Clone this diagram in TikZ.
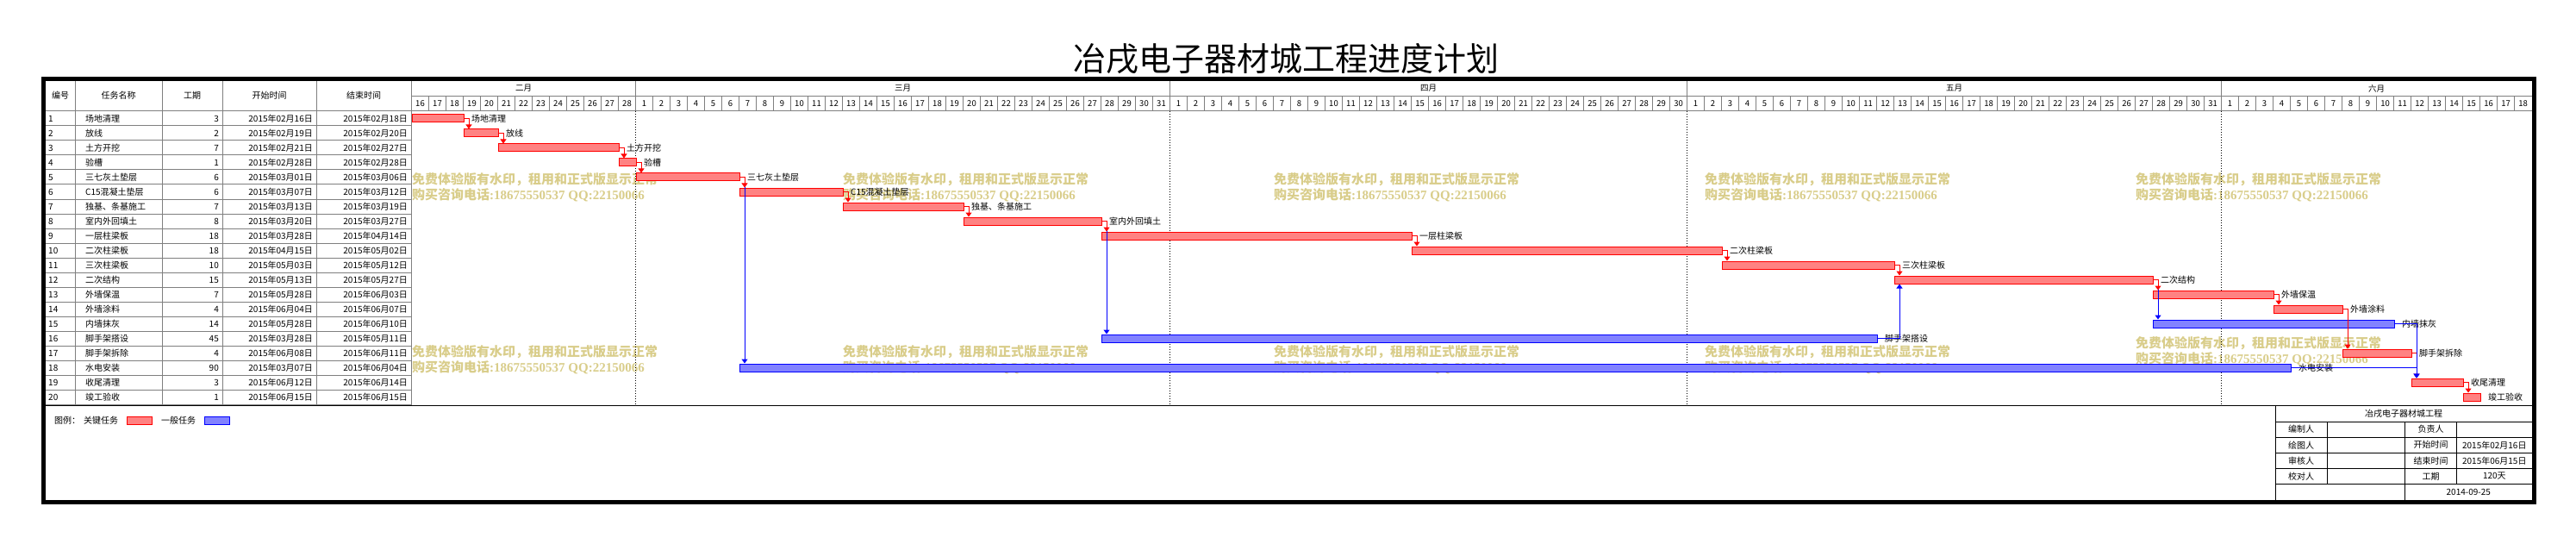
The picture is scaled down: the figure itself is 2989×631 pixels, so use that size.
\documentclass[tikz,border=0pt]{standalone}
\usepackage{fontspec}
\setmainfont{Noto Sans CJK SC}
\newfontfamily\wmlatin{Liberation Serif}
\usetikzlibrary{arrows.meta}

\definecolor{gridgray}{RGB}{128,128,128}
\definecolor{wmkhaki}{RGB}{217,205,138}
\definecolor{critred}{RGB}{255,0,0}
\definecolor{critfill}{RGB}{255,130,130}
\definecolor{normblue}{RGB}{0,0,255}
\definecolor{normfill}{RGB}{130,130,255}

\begin{document}
\begin{tikzpicture}[x=1pt,y=-1pt]

	\tikzstyle{grid}=[draw=gridgray,line width=1pt]
	\tikzstyle{cell}=[inner sep=0pt,font=\fontsize{10}{12}\selectfont]
	\tikzstyle{daynum}=[inner sep=0pt,font=\fontsize{9.5}{11}\selectfont]
	\tikzstyle{wmark}=[inner sep=0pt,anchor=west,text=wmkhaki,
		font=\fontsize{15}{17}\selectfont\bfseries]
	\tikzstyle{crit}=[draw=critred,fill=critfill,line width=1pt,
		inner sep=0pt,minimum height=9pt]
	\tikzstyle{norm}=[draw=normblue,fill=normfill,line width=1pt,
		inner sep=0pt,minimum height=9pt]
	\tikzstyle{critlink}=[draw=critred,line width=1pt,
		-{Triangle[length=5pt,width=7pt]}]
	\tikzstyle{normlink}=[draw=normblue,line width=1pt,
		-{Triangle[length=5pt,width=7pt]}]
	\tikzstyle{blockline}=[draw=black,line width=1pt]

	\useasboundingbox[fill=white] (0,0) rectangle (2989,631);

	% title
	\node[inner sep=0pt,font=\fontsize{38}{40}\selectfont] (title)
		at (1492,68) {冶戌电子器材城工程进度计划};

	% watermarks
	\foreach \wx/\wy [count=\k] in {478/208,978/208,1478/208,1978/208,2478/208,
			478/408,978/408,1478/408,1978/408,2478/398} {
		\node[wmark] (wma\k) at (\wx,\wy) {免费体验版有水印，租用和正式版显示正常};
		\node[wmark] (wmb\k) at (\wx,\wy+18)
			{购买咨询电话{\wmlatin\bfseries :18675550537 QQ:22150066}};
	}

	% table header
	\node[cell] (hno)  at (70,111)    {编号};
	\node[cell] (hnm)  at (137.5,111) {任务名称};
	\node[cell] (hdu)  at (223,111)   {工期};
	\node[cell] (hsd)  at (312.5,111) {开始时间};
	\node[cell] (hed)  at (422,111)   {结束时间};

	\foreach \cx in {87,188,258,367,477.5}
		\draw[grid] (\cx,93) -- (\cx,469);
	\draw[grid] (477.5,112) -- (2937.5,112);
	\draw[grid] (53,129) -- (2937.5,129);
	\foreach \r in {1,...,20}
		\draw[grid] (53,129+17*\r) -- (477.5,129+17*\r);

	% months and days
	\foreach \m/\first/\last/\off/\len in {二月/16/28/0/13,三月/1/31/13/31,
			四月/1/30/44/30,五月/1/31/74/31,六月/1/18/105/18} {
		\node[daynum] (mon\off) at (477.5+20*\off+10*\len,102.5) {\m};
		\draw[grid] (477.5+20*\off,93) -- (477.5+20*\off,129);
		\foreach \dd in {\first,...,\last} {
			\draw[grid] (477.5+20*\off+20*\dd-20*\first,112) -- ++(0,17);
			\node[daynum] (day\off-\dd) at (487.5+20*\off+20*\dd-20*\first,120.5) {\dd};
		}
	}
	\foreach \off in {13,44,74,105}
		\draw[black,line width=1pt,dotted] (477.5+20*\off,129) -- (477.5+20*\off,469);

	% tasks: no/name/days/start/end/offset/kind
	\foreach \i/\nm/\d/\sd/\ed/\s/\kind in {
			1/场地清理/3/2015年02月16日/2015年02月18日/0/crit,
			2/放线/2/2015年02月19日/2015年02月20日/3/crit,
			3/土方开挖/7/2015年02月21日/2015年02月27日/5/crit,
			4/验槽/1/2015年02月28日/2015年02月28日/12/crit,
			5/三七灰土垫层/6/2015年03月01日/2015年03月06日/13/crit,
			6/C15混凝土垫层/6/2015年03月07日/2015年03月12日/19/crit,
			7/独基、条基施工/7/2015年03月13日/2015年03月19日/25/crit,
			8/室内外回填土/8/2015年03月20日/2015年03月27日/32/crit,
			9/一层柱梁板/18/2015年03月28日/2015年04月14日/40/crit,
			10/二次柱梁板/18/2015年04月15日/2015年05月02日/58/crit,
			11/三次柱梁板/10/2015年05月03日/2015年05月12日/76/crit,
			12/二次结构/15/2015年05月13日/2015年05月27日/86/crit,
			13/外墙保温/7/2015年05月28日/2015年06月03日/101/crit,
			14/外墙涂料/4/2015年06月04日/2015年06月07日/108/crit,
			15/内墙抹灰/14/2015年05月28日/2015年06月10日/101/norm,
			16/脚手架搭设/45/2015年03月28日/2015年05月11日/40/norm,
			17/脚手架拆除/4/2015年06月08日/2015年06月11日/112/crit,
			18/水电安装/90/2015年03月07日/2015年06月04日/19/norm,
			19/收尾清理/3/2015年06月12日/2015年06月14日/116/crit,
			20/竣工验收/1/2015年06月15日/2015年06月15日/119/crit} {
		\pgfmathsetmacro\yc{129+17*(\i-0.5)}
		\pgfmathsetmacro\w{20*\d}
		\node[cell,anchor=west] (no\i) at (56,\yc)  {\i};
		\node[cell,anchor=west] (nm\i) at (99,\yc)  {\nm};
		\node[cell,anchor=east] (du\i) at (254,\yc) {\d};
		\node[cell,anchor=east] (sd\i) at (363,\yc) {\sd};
		\node[cell,anchor=east] (ed\i) at (473,\yc) {\ed};
		\node[\kind,anchor=west,minimum width=\w pt] (b\i) at (477.5+20*\s,\yc) {};
		\node[cell,anchor=west] (t\i) at ([xshift=8.5pt]b\i.east) {\nm};
	}

	% links
	\foreach \a/\b in {5/18,8/16,12/15}
		\draw[normlink] (b\a.east) -| ([xshift=6.5pt]b\b.north west);
	\foreach \a/\b in {1/2,2/3,3/4,4/5,5/6,6/7,7/8,8/9,9/10,10/11,11/12,
			12/13,13/14,14/17,17/19,19/20}
		\draw[critlink] (b\a.east) -| ([xshift=6.5pt]b\b.north west);
	\foreach \a/\b in {15/19,18/19}
		\draw[normlink] (b\a.east) -| ([xshift=6.5pt]b\b.north west);
	\draw[normlink] (b16.east) -| ([xshift=6.5pt]b12.south west);

	% legend
	\draw[black,line width=1.5pt] (53,470.5) -- (2937.5,470.5);
	\node[cell,anchor=west] (lg)   at (63,488)  {图例：};
	\node[cell,anchor=west] (lgc)  at (97,488)  {关键任务};
	\node[crit,minimum width=29pt] (lgcb) at (162,488) {};
	\node[cell,anchor=west] (lgn)  at (187,488) {一般任务};
	\node[norm,minimum width=29pt] (lgnb) at (252,488) {};

	% title block
	\draw[blockline] (2640,471) -- (2640,580);
	\foreach \hy in {489,507.7,525.7,543.7,561.3}
		\draw[blockline] (2640,\hy) -- (2938,\hy);
	\draw[blockline] (2700,489) -- (2700,561.3);
	\draw[blockline] (2790.7,489) -- (2790.7,580);
	\draw[blockline] (2850.7,489) -- (2850.7,561.3);
	\node[cell] (proj) at (2789,480) {冶戌电子器材城工程};
	\foreach \ra/\rb/\rc [count=\j] in {编制人/负责人/{},
			绘图人/开始时间/2015年02月16日,
			审核人/结束时间/2015年06月15日,
			校对人/工期/120天} {
		\node[cell] (bka\j) at (2670,480+18.1*\j) {\ra};
		\node[cell] (bkb\j) at (2820.7,480+18.1*\j) {\rb};
		\node[cell] (bkc\j) at (2894.3,480+18.1*\j) {\rc};
	}
	\node[cell] (bkdate) at (2864.3,570.6) {2014-09-25};

	% frame
	\draw[black,line width=5pt] (50.5,91.5) rectangle (2940,582);

\end{tikzpicture}
\end{document}
